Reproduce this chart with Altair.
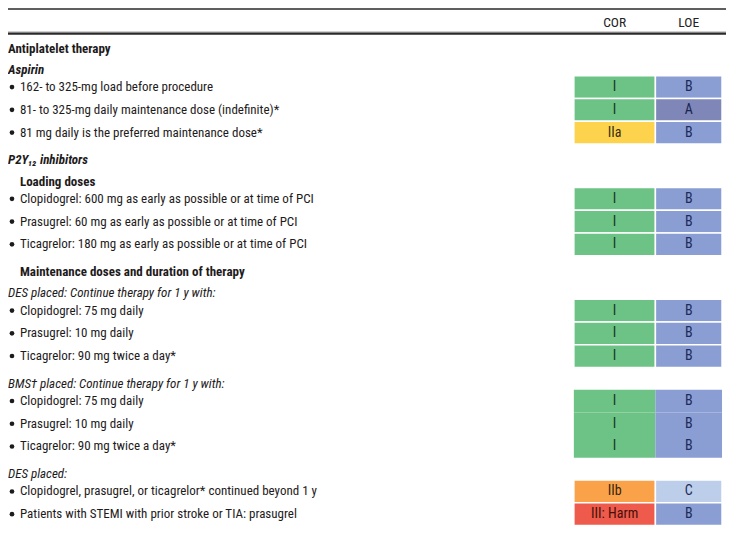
import altair as alt
import pandas as pd

# ---- table content ----
labels = [
    "Antiplatelet therapy",
    "Aspirin",
    "162- to 325-mg load before procedure",
    "81- to 325-mg daily maintenance dose (indefinite)*",
    "81 mg daily is the preferred maintenance dose*",
    "P2Y₁₂ inhibitors",
    "Loading doses",
    "Clopidogrel: 600 mg as early as possible or at time of PCI",
    "Prasugrel: 60 mg as early as possible or at time of PCI",
    "Ticagrelor: 180 mg as early as possible or at time of PCI",
    "Maintenance doses and duration of therapy",
    "DES placed: Continue therapy for 1 y with:",
    "Clopidogrel: 75 mg daily",
    "Prasugrel: 10 mg daily",
    "Ticagrelor: 90 mg twice a day*",
    "BMS† placed: Continue therapy for 1 y with:",
    "Clopidogrel: 75 mg daily",
    "Prasugrel: 10 mg daily",
    "Ticagrelor: 90 mg twice a day*",
    "DES placed:",
    "Clopidogrel, prasugrel, or ticagrelor* continued beyond 1 y",
    "Patients with STEMI with prior stroke or TIA: prasugrel",
]
styles = [
    "bold", "bolditalic", "bullet", "bullet", "bullet",
    "bolditalic", "boldindent", "bullet", "bullet", "bullet",
    "boldindent", "italic", "bullet", "bullet", "bullet",
    "italic", "bullet", "bullet", "bullet",
    "italic", "bullet", "bullet",
]
cor = [None, None, "I", "I", "IIa",
       None, None, "I", "I", "I",
       None, None, "I", "I", "I",
       None, "I", "I", "I",
       None, "IIb", "III: Harm"]
loe = [None, None, "B", "A", "B",
       None, None, "B", "B", "B",
       None, None, "B", "B", "B",
       None, "B", "B", "B",
       None, "C", "B"]
headers = ["COR", "LOE"]

# ---- layout rules (pixels in reference frame) ----
FIRST_Y = 43
STEP = {("h", "h"): 21.5, ("h", "b"): 17.5, ("b", "b"): 23, ("b", "h"): 28}
ROW_H = 23
COLS = {"COR": (573, 655), "LOE": (655, 722)}
TEXT_X, INDENT_X, BULLET_X = 4, 16, 8
FONT = "Liberation Sans Narrow, Arial Narrow, Roboto Condensed, DejaVu Sans Condensed, sans-serif"
FS = 13

ys, groups = [], []
g = 0
prev = None
y = FIRST_Y
for s in styles:
    k = "b" if s == "bullet" else "h"
    if prev is not None:
        y += STEP[(prev, k)]
    if k == "h":
        g += 1
    ys.append(y)
    groups.append(g)
    prev = k

rows = pd.DataFrame({"label": labels, "style": styles, "y": ys, "group": groups})
rows["x"] = [INDENT_X if s in ("bullet", "boldindent") else TEXT_X for s in styles]
rows["bx"] = BULLET_X
bms_group = rows.loc[rows.label.str.startswith("BMS"), "group"].iloc[0]

cells = []
for i in range(len(labels)):
    for col, vals in (("COR", cor), ("LOE", loe)):
        v = vals[i]
        if v is None:
            continue
        x0, x1 = COLS[col]
        key = v if col == "COR" else "L" + v
        cells.append({"col": col, "value": v, "key": key,
                      "x0": x0, "x1": x1, "xc": (x0 + x1) / 2,
                      "y": ys[i], "y0": ys[i] - ROW_H / 2, "y1": ys[i] + ROW_H / 2,
                      "div": groups[i] != bms_group})
cells = pd.DataFrame(cells)

hdr = pd.DataFrame({"label": headers, "x": [(a + b) / 2 for a, b in COLS.values()], "y": [17, 17]})
lines = pd.DataFrame({"y": [3, 28], "w": [1.5, 2.2]})

xs = alt.Scale(domain=[4, 726], range=[0, 718])
ysc = alt.Scale(domain=[2, 533], range=[0, 525])

fill_keys = ["I", "IIa", "IIb", "III: Harm", "LA", "LB", "LC"]
fill_cols = ["#6CC385", "#FDD34E", "#F9A24A", "#EE5A4B", "#7E87B7", "#8A9ED4", "#BDCEEA"]
text_cols = ["#173520", "#3A2E0C", "#3A260C", "#461008", "#1A2550", "#1E2B58", "#1E2B58"]

rule_layer = alt.Chart(lines).mark_rule(color="#2a2a2a").encode(
    x=alt.value(0), x2=alt.value(718),
    y=alt.Y("y:Q", scale=ysc, axis=None),
    strokeWidth=alt.StrokeWidth("w:Q", scale=None, legend=None),
)
gray_line = alt.Chart(pd.DataFrame({"y": [26.2]})).mark_rule(color="#b0b0b0", strokeWidth=1).encode(
    x=alt.value(0), x2=alt.value(718), y=alt.Y("y:Q", scale=ysc, axis=None))

hdr_layer = alt.Chart(hdr).mark_text(font=FONT, fontSize=13.5, color="#222", baseline="middle", align="center").encode(
    x=alt.X("x:Q", scale=xs, axis=None), y=alt.Y("y:Q", scale=ysc, axis=None), text="label:N")

def text_layer(style_list, weight, fstyle):
    return alt.Chart(rows).transform_filter(
        alt.FieldOneOfPredicate(field="style", oneOf=style_list)
    ).mark_text(font=FONT, fontSize=FS, color="#1E1B1C", baseline="middle", align="left",
                fontWeight=weight, fontStyle=fstyle).encode(
        x=alt.X("x:Q", scale=xs, axis=None), y=alt.Y("y:Q", scale=ysc, axis=None), text="label:N")

t_bold = text_layer(["bold", "boldindent"], "bold", "normal")
t_bi = text_layer(["bolditalic"], "bold", "italic")
t_it = text_layer(["italic"], "normal", "italic")
t_norm = text_layer(["bullet"], "normal", "normal")

bullets = alt.Chart(rows).transform_filter(alt.datum.style == "bullet").mark_circle(
    color="#1E1B1C", opacity=1, size=22).encode(
    x=alt.X("bx:Q", scale=xs, axis=None), y=alt.Y("y:Q", scale=ysc, axis=None))

fill_scale = alt.Scale(domain=fill_keys, range=fill_cols)
rect_div = alt.Chart(cells).transform_filter(alt.datum["div"] == True).mark_rect(
    stroke="white", strokeWidth=1.5).encode(
    x=alt.X("x0:Q", scale=xs, axis=None), x2="x1:Q",
    y=alt.Y("y0:Q", scale=ysc, axis=None), y2="y1:Q",
    fill=alt.Fill("key:N", scale=fill_scale, legend=None))
rect_nodiv = alt.Chart(cells).transform_filter(alt.datum["div"] == False).mark_rect().encode(
    x=alt.X("x0:Q", scale=xs, axis=None), x2="x1:Q",
    y=alt.Y("y0:Q", scale=ysc, axis=None), y2="y1:Q",
    fill=alt.Fill("key:N", scale=fill_scale, legend=None))

cell_text = alt.Chart(cells).mark_text(font=FONT, fontSize=14, baseline="middle", align="center").encode(
    x=alt.X("xc:Q", scale=xs, axis=None), y=alt.Y("y:Q", scale=ysc, axis=None),
    text="value:N",
    color=alt.Color("key:N", scale=alt.Scale(domain=fill_keys, range=text_cols), legend=None))

chart = alt.layer(
    rect_div, rect_nodiv, cell_text, gray_line, rule_layer, hdr_layer,
    t_bold, t_bi, t_it, t_norm, bullets,
).resolve_scale(color="independent", fill="independent").properties(
    width=718, height=525, autosize=alt.AutoSizeParams(type="none"), padding=0,
).configure_view(stroke=None)

chart.save("out.html", embed_options={"renderer": "svg", "actions": False})
